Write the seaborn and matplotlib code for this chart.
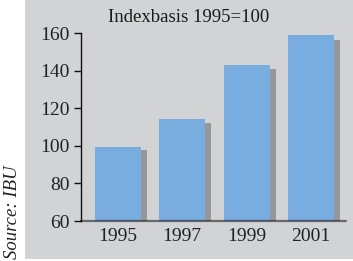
import seaborn as sns
import matplotlib.pyplot as plt
import numpy as np
import pandas as pd
from matplotlib.patches import Rectangle

# values (Index 1995=100)
years = ['1995', '1997', '1999', '2001']
index_vals = [99.5, 114.3, 143.0, 159.0]
shadow_vals = [97.8, 112.1, 140.9, 156.3]

sns.set_style('ticks')
plt.rcParams['font.family'] = ['Liberation Serif', 'DejaVu Serif']

df = pd.DataFrame({'year': years, 'index': index_vals})

fig = plt.figure(figsize=(3.53, 2.61), dpi=100)
fig.patch.set_facecolor('white')
fig.patches.append(Rectangle((25/353, 2/261), 1 - 25/353, 1 - 2/261,
                             transform=fig.transFigure, facecolor='#d2d3d5',
                             edgecolor='none', zorder=-1))

ax = fig.add_axes([81/353, 1 - 221/261, 1 - 81/353 - 7/353, (221 - 33)/261])
ax.set_facecolor('none')

bw = 0.715
# shadow bars, shifted right
ax.bar(np.arange(len(years)) + 0.093, shadow_vals, width=bw, color='#959799',
       linewidth=0, zorder=1)
sns.barplot(data=df, x='year', y='index', order=years, color='#7aaddf',
            saturation=1, width=bw, ax=ax, zorder=2, linewidth=0,
            edgecolor='none')

ax.set_ylim(60, 160)
ax.set_xlim(-0.575, 3.546)
ax.set_yticks([60, 80, 100, 120, 140, 160])
ax.set_xlabel('')
ax.set_ylabel('')

for s in ['top', 'right']:
    ax.spines[s].set_visible(False)
ax.spines['left'].set_color('#111111')
ax.spines['left'].set_linewidth(1)
ax.spines['bottom'].set_visible(False)
ax.axhline(60, color='black', alpha=0.5, lw=1.6, zorder=3, clip_on=False)

ax.tick_params(axis='y', length=5, width=1, color='#111111', pad=3,
               labelsize=14, labelcolor='#222222')
ax.tick_params(axis='x', length=0, pad=5, labelsize=14, labelcolor='#222222')

fig.text(189/353, 1 - 18/261, 'Indexbasis 1995=100', ha='center', va='center',
         fontsize=13.5, color='#1a1a1a')
fig.text(13/353, 1 - 212/261, 'Source: IBU', rotation=90, ha='center',
         va='center', fontsize=13.5, style='italic', color='#222222')

fig.savefig('out.png', dpi=100)
